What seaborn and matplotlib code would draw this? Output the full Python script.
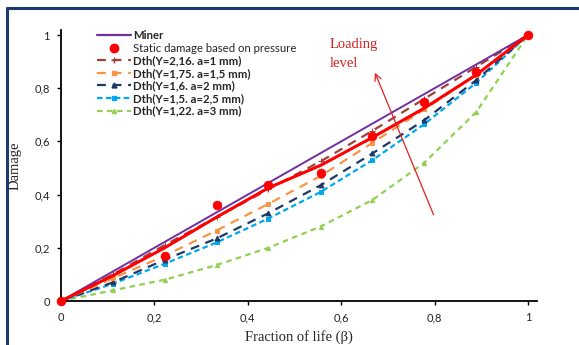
import matplotlib
matplotlib.use("Agg")
import matplotlib.pyplot as plt
import seaborn as sns
import pandas as pd
from matplotlib.lines import Line2D

sns.set_theme(style="white")
plt.rcParams['font.family'] = ['Lato', 'DejaVu Sans']

# ---- data ----
frac = [0, 0.111, 0.222, 0.333, 0.444, 0.556, 0.667, 0.778, 0.889, 1.0]
miner = [0, 0.111, 0.222, 0.333, 0.444, 0.556, 0.667, 0.778, 0.889, 1.0]
fit_line = [0, 0.095, 0.2, 0.315, 0.425, 0.51, 0.615, 0.725, 0.85, 1.0]
static_x = [0, 0.222, 0.333, 0.444, 0.556, 0.667, 0.778, 0.889, 1.0]
static_y = [0, 0.17, 0.36, 0.435, 0.48, 0.62, 0.75, 0.86, 1.0]
dth_a1 = [0, 0.10, 0.21, 0.315, 0.42, 0.525, 0.64, 0.76, 0.88, 1.0]
dth_a15 = [0, 0.085, 0.17, 0.265, 0.365, 0.47, 0.595, 0.72, 0.85, 1.0]
dth_a2 = [0, 0.07, 0.155, 0.235, 0.33, 0.435, 0.555, 0.68, 0.83, 1.0]
dth_a25 = [0, 0.065, 0.14, 0.22, 0.31, 0.41, 0.53, 0.665, 0.82, 1.0]
dth_a3 = [0, 0.04, 0.08, 0.135, 0.2, 0.28, 0.38, 0.52, 0.71, 1.0]
labels = ["Miner", "Static damage based on pressure",
          "Dth(Y=2,16. a=1 mm)", "Dth(Y=1,75. a=1,5 mm)", "Dth(Y=1,6. a=2 mm)",
          "Dth(Y=1,5. a=2,5 mm)", "Dth(Y=1,22. a=3 mm)"]
xticks = [0, 0.2, 0.4, 0.6, 0.8, 1.0]
xtick_labels = ["0", "0,2", "0,4", "0,6", "0,8", "1"]
ytick_labels = ["0", "0,2", "0,4", "0,6", "0,8", "1"]

W, H = 579, 345
fig = plt.figure(figsize=(W / 100, H / 100), dpi=100)
ax = fig.add_axes([61 / W, 1 - 301 / H, (537 - 61) / W, (301 - 30) / H])

c_miner = "#7030A0"
c_red = "#FF0000"
c_brown = "#A0403C"
c_orange = "#F79646"
c_navy = "#1F3864"
c_blue = "#00A8F0"
c_green = "#92D050"

series = [
    (dth_a3, c_green, (2.5, 2), "^", 3.0, labels[6]),
    (dth_a25, c_blue, (2.5, 1.5), "s", 3.0, labels[5]),
    (dth_a2, c_navy, (4, 3), "^", 3.5, labels[4]),
    (dth_a15, c_orange, (4, 3), "s", 3.0, labels[3]),
    (dth_a1, c_brown, (4, 3), "+", 4.0, labels[2]),
]
for ys, col, dash, mk, ms, lab in series:
    df = pd.DataFrame({"x": frac, "y": ys})
    sns.lineplot(data=df, x="x", y="y", ax=ax, color=col, lw=1.6,
                 marker=mk, markersize=ms, markeredgecolor=col,
                 dashes=False, legend=False)
    ax.lines[-1].set_dashes(dash)

sns.lineplot(x=frac, y=miner, ax=ax, color=c_miner, lw=1.4, legend=False)
sns.lineplot(x=frac, y=fit_line, ax=ax, color=c_red, lw=2.2, legend=False)
sns.scatterplot(x=static_x, y=static_y, ax=ax, color=c_red, s=40,
                edgecolor=c_red, zorder=5, legend=False, clip_on=False)

ax.set_xlim(0, 476 / 467)
ax.set_ylim(0, 271 / 266)
ax.set_xticks(xticks)
ax.set_xticklabels(xtick_labels)
ax.set_yticks(xticks)
ax.set_yticklabels(ytick_labels)
for s in ["top", "right"]:
    ax.spines[s].set_visible(False)
for s in ["left", "bottom"]:
    ax.spines[s].set_color("black")
    ax.spines[s].set_linewidth(1.3)
ax.tick_params(axis="both", direction="out", length=3, width=1, color="black",
               labelsize=8, labelcolor="#222222", bottom=True, left=True, pad=5)
ax.set_xlabel("Fraction of life (β)", family="Liberation Serif", fontsize=10.5, labelpad=5)
ax.set_ylabel("Damage", family="Liberation Serif", fontsize=10.5, labelpad=9)

handles = [
    Line2D([], [], color=c_miner, lw=1.6),
    Line2D([], [], color=c_red, lw=0, marker="o", markersize=6),
    Line2D([], [], color=c_brown, lw=1.6, dashes=(4, 3), marker="+", markersize=4),
    Line2D([], [], color=c_orange, lw=1.6, dashes=(4, 3), marker="s", markersize=3),
    Line2D([], [], color=c_navy, lw=1.6, dashes=(4, 3), marker="^", markersize=3.5),
    Line2D([], [], color=c_blue, lw=1.6, dashes=(2.5, 1.5), marker="s", markersize=3),
    Line2D([], [], color=c_green, lw=1.6, dashes=(2.5, 2), marker="^", markersize=3),
]
leg = ax.legend(handles, labels, loc="upper left",
                bbox_to_anchor=(89 / W, 1 - 22 / H), bbox_transform=fig.transFigure,
                frameon=False, fontsize=8.2, handlelength=3.0, handletextpad=0.15,
                labelspacing=0.14, borderpad=0.2)
for i, t in enumerate(leg.get_texts()):
    if i != 1:
        t.set_fontweight("bold")

ax.annotate("", xy=(0.67, 0.868), xytext=(0.8, 0.315),
            arrowprops=dict(arrowstyle="->", color="#E02020", lw=0.9))
ax.text(0.575, 0.99, "Loading\nlevel", color="#D02020", family="Liberation Serif",
        fontsize=10.5, va="top", ha="left", linespacing=1.6)

# outer frame (top and left edges visible in the reference)
fig.add_artist(Line2D([7 / W, 7 / W], [0, 1 - 8 / H], transform=fig.transFigure,
                      color="#1F3A70", lw=2.2))
fig.add_artist(Line2D([7 / W, 1], [1 - 8 / H, 1 - 8 / H], transform=fig.transFigure,
                      color="#1F3A70", lw=2.2))

fig.savefig("out.png", dpi=100)
